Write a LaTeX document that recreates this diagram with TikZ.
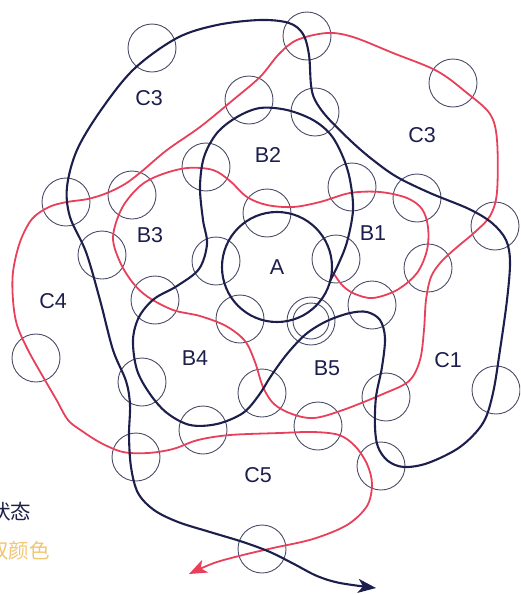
\documentclass[tikz,border=0pt]{standalone}
\usepackage{fontspec}
\setmainfont{Liberation Sans}
\newfontfamily\cjk{Noto Sans CJK SC}
\usetikzlibrary{arrows.meta}
\definecolor{navy}{HTML}{1C1E4C}
\definecolor{rose}{HTML}{E8405A}
\definecolor{ringgray}{HTML}{4A4C68}
\definecolor{gold}{HTML}{F0C674}

\begin{document}
\begin{tikzpicture}[x=1pt, y=-1pt, line join=round, line cap=round, font=\fontsize{21.5}{26}\selectfont,
		ring/.style={draw=ringgray, line width=0.9pt},
		navyline/.style={draw=navy, line width=2.1pt},
		redline/.style={draw=rose, line width=1.8pt},
		lbl/.style={text=navy, inner sep=0pt},
		tip/.style={-{Stealth[length=18pt, width=14pt, inset=5pt]}}]
	\useasboundingbox (0,0) rectangle (520,595);
	\clip (0,0) rectangle (520,595);
	% small rings
	\foreach \cx/\cy in {152/48, 307/36, 249/100, 315/112, 453/83, 206/167, 132/195, 66/202, 352/187, 417/198,
		267/213, 495/226, 102/255, 216/261, 336/259, 428/268, 155/300, 240/319, 372/305, 36/358,
		142/382, 262/393, 386/397, 496/390, 203/430, 318/426, 136/457, 381/466, 262/549}
		\draw[ring] (\cx,\cy) circle (24pt);
	% start ring
	\draw[ring] (311,321) circle (24pt);
	\draw[ring] (311,321) circle (18pt);
	% region A
	\node[circle, navyline, minimum size=110pt, inner sep=0pt, text=navy] (regA) at (277,267) {A};
	% red path
	\draw[redline, tip, draw=rose, fill=none] plot[smooth, tension=0.55] coordinates {(334,274) (343,286) (355,294) (373,298) (397,290)
		(417,273) (427,250) (428,227) (422,209) (407,198) (380,192) (350,193) (320,202) (293,207) (267,205) (247,197)
		(230,181) (213,170) (187,168) (160,175) (140,186) (122,208) (113,237) (120,262) (133,283) (148,297) (173,310)
		(200,316) (226,326) (245,341) (255,362) (263,387) (274,404) (292,414) (314,418) (343,410) (383,394) (409,381)
		(420,360) (424,330) (426,300) (431,277) (441,262) (456,248) (475,232) (490,216) (497,192) (497,140) (490,114)
		(467,93) (437,71) (393,53) (353,37) (327,33) (297,40) (279,54) (260,77) (233,100) (200,127) (167,150) (141,172)
		(125,184) (107,193) (88,199) (67,202) (49,207) (32,219) (20,242) (13,272) (13,300) (17,325) (28,350) (42,375)
		(56,399) (68,420) (82,431) (101,443) (123,452) (148,453) (173,449) (198,440) (230,435) (280,433) (313,432)
		(339,435) (355,446) (367,464) (372,484) (367,506) (347,525) (313,539) (273,548) (243,555) (214,563) (189,574)};
	% navy path
	\draw[navyline, tip, fill=none] plot[smooth, tension=0.55] coordinates {(330,281) (338,265) (347,242) (353,210) (350,180)
		(343,157) (331,135) (313,120) (287,110) (260,108) (237,117) (217,133) (204,157) (200,187) (203,220) (207,244)
		(199,269) (177,286) (154,299) (139,317) (133,340) (137,370) (150,394) (167,413) (190,425) (217,424) (243,413)
		(259,395) (271,376) (287,354) (306,334) (327,321) (350,313) (367,312) (380,320) (385,338) (382,367) (376,397)
		(375,427) (378,447) (388,461) (404,467) (428,463) (460,447) (483,423) (493,393) (500,350) (507,300) (510,262)
		(506,240) (492,223) (469,209) (430,193) (397,177) (373,160) (352,142) (327,117) (315,100) (311,85) (309,55)
		(303,34) (289,23) (260,20) (217,25) (177,38) (134,69) (101,110) (77,150) (67,187) (70,217) (86,252) (100,300)
		(113,350) (126,381) (130,405) (129,435) (131,467) (138,493) (154,510) (178,522) (210,532) (243,542) (270,552)
		(294,564) (317,576) (340,583) (376,588)};
	% region labels
	\node[lbl] (lblCthreeL) at (149,98) {C3};
	\node[lbl] (lblCthreeR) at (422,135) {C3};
	\node[lbl] (lblBtwo) at (268,155) {B2};
	\node[lbl] (lblBthree) at (150,235) {B3};
	\node[lbl] (lblBone) at (373,233) {B1};
	\node[lbl] (lblCfour) at (53,301) {C4};
	\node[lbl] (lblBfour) at (195,358) {B4};
	\node[lbl] (lblBfive) at (327,368) {B5};
	\node[lbl] (lblCone) at (448,360) {C1};
	\node[lbl] (lblCfive) at (258,475) {C5};
	% key text, cut at the edge
	\node[inner sep=0pt, anchor=west, text=navy, font=\cjk\fontsize{20.5}{24}\selectfont] (keyState) at (-10,512) {状态};
	\node[inner sep=0pt, anchor=west, text=gold, font=\cjk\fontsize{20.5}{24}\selectfont] (keyColour) at (-12,551) {双颜色};
\end{tikzpicture}
\end{document}
